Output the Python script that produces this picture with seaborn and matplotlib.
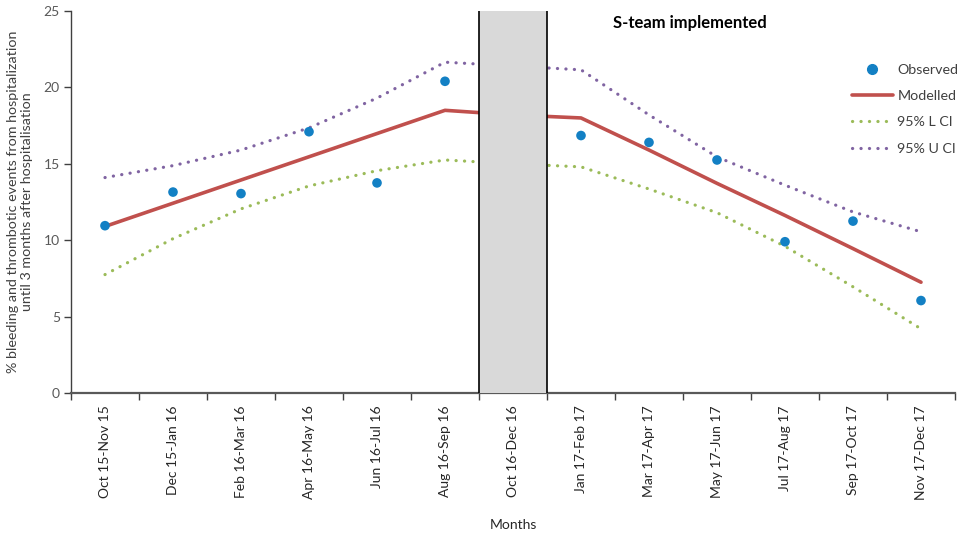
import numpy as np
import pandas as pd
import matplotlib
matplotlib.use("Agg")
import matplotlib.pyplot as plt
import seaborn as sns
from matplotlib.lines import Line2D

categories = ["Oct 15-Nov 15", "Dec 15-Jan 16", "Feb 16-Mar 16", "Apr 16-May 16",
              "Jun 16-Jul 16", "Aug 16-Sep 16", "Oct 16-Dec 16", "Jan 17-Feb 17",
              "Mar 17-Apr 17", "May 17-Jun 17", "Jul 17-Aug 17", "Sep 17-Oct 17",
              "Nov 17-Dec 17"]
observed = [10.95, 13.15, 13.05, 17.1, 13.75, 20.4, np.nan, 16.85, 16.4, 15.25, 9.9, 11.25, 6.05]
modelled = [10.9, 12.42, 13.94, 15.46, 16.98, 18.5, 18.2, 18.0, 15.9, 13.72, 11.62, 9.45, 7.25]
lower_ci = [7.75, 10.1, 12.05, 13.55, 14.55, 15.25, 15.0, 14.8, 13.35, 11.8, 9.6, 6.95, 4.2]
upper_ci = [14.1, 14.88, 15.9, 17.35, 19.3, 21.65, 21.4, 21.15, 18.2, 15.45, 13.6, 11.85, 10.55]
intervention_category = "Oct 16-Dec 16"
annotation = "S-team implemented"

x = np.arange(len(categories))
df = pd.DataFrame({"x": x, "Observed": observed, "Modelled": modelled,
                   "95% L CI": lower_ci, "95% U CI": upper_ci})

sns.set_style("white")
plt.rcParams['font.family'] = ['Lato', 'DejaVu Sans']

fig = plt.figure(figsize=(9.64, 5.37), dpi=100)
ax = fig.add_axes([71/964, 144/537, 884/964, 382/537])

c_obs = "#1380C4"
c_mod = "#C0504D"
c_low = "#9BBB59"
c_up = "#8064A2"
dot = (0, (0.05, 2.6))

sns.lineplot(data=df, x="x", y="Modelled", ax=ax, color=c_mod, lw=2.6, label="_m", zorder=2)
sns.lineplot(data=df, x="x", y="95% L CI", ax=ax, color=c_low, lw=2.3, label="_l", zorder=2)
sns.lineplot(data=df, x="x", y="95% U CI", ax=ax, color=c_up, lw=2.3, label="_u", zorder=2)
for ln in ax.lines[1:3]:
    ln.set_linestyle(dot)
    ln.set_dash_capstyle("round")
sns.scatterplot(data=df, x="x", y="Observed", ax=ax, color=c_obs, s=48, edgecolor="none", zorder=3, label="_o")

ix = categories.index(intervention_category)
ax.axvspan(ix - 0.5, ix + 0.5, ymin=0, ymax=1, facecolor="#D9D9D9", edgecolor="none", zorder=4)
ax.axvline(ix - 0.5, color="black", lw=1.2, zorder=5)
ax.axvline(ix + 0.5, color="black", lw=1.2, zorder=5)

ax.set_xlim(-0.5, len(categories) - 0.5)
ax.set_ylim(0, 25)
ax.set_yticks([0, 5, 10, 15, 20, 25])
ax.set_xticks(np.arange(len(categories) + 1) - 0.5)
ax.set_xticklabels([])
ax.set_xticks(x, minor=True)
ax.set_xticklabels(categories, minor=True, rotation=90, fontsize=10, color="#262626")
ax.tick_params(axis="x", which="major", direction="out", length=5, width=1, color="#404040", bottom=True)
ax.tick_params(axis="x", which="minor", length=0, pad=9)
ax.tick_params(axis="y", direction="out", length=5, width=1, color="#404040", left=True,
               labelsize=10, labelcolor="#595959", pad=3)

for s in ["top", "right"]:
    ax.spines[s].set_visible(False)
ax.spines["left"].set_color("#404040")
ax.spines["bottom"].set_color("#595959")
ax.spines["bottom"].set_linewidth(1.6)
ax.spines["left"].set_linewidth(1.0)

ax.set_xlabel("Months", fontsize=10, color="#262626", labelpad=14)
ax.set_ylabel("% bleeding and thrombotic events from hospitalization\nuntil 3 months after hospitalisation",
              fontsize=10.3, color="#404040", labelpad=8)

ax.text(ix + 2.6, 24.2, annotation, fontsize=12, fontweight="bold", ha="center", va="center", color="black", zorder=6)

handles = [
    Line2D([], [], marker="o", ls="none", color=c_obs, markersize=7),
    Line2D([], [], color=c_mod, lw=2.6),
    Line2D([], [], color=c_low, lw=2.3, ls=dot, dash_capstyle="round"),
    Line2D([], [], color=c_up, lw=2.3, ls=dot, dash_capstyle="round"),
]
leg = ax.legend(handles, ["Observed", "Modelled", "95% L CI", "95% U CI"], frameon=False,
                loc="upper left", bbox_to_anchor=(0.883, 0.862), borderaxespad=0, borderpad=0,
                fontsize=10.3, handlelength=2.9, labelspacing=1.0, handletextpad=0.3)
for t in leg.get_texts():
    t.set_color("#404040")

fig.savefig("out.png", dpi=100)
